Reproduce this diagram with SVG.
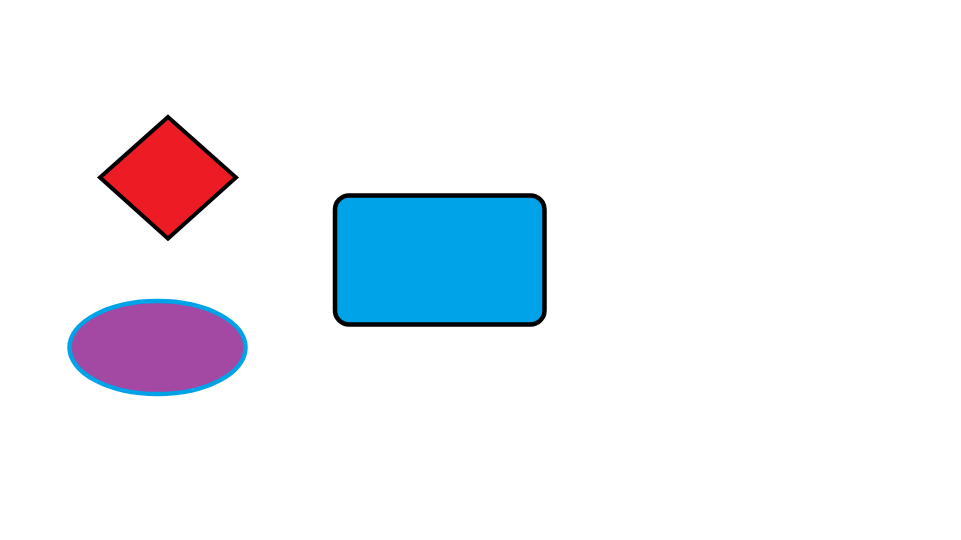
<svg xmlns="http://www.w3.org/2000/svg" width="961" height="540" viewBox="0 0 961 540">
<style>
.dia{fill:#ED1C24;stroke:#000;stroke-width:4;stroke-linejoin:miter}
.box{fill:#00A2E8;stroke:#000;stroke-width:4.5}
.ell{fill:#A349A4;stroke:#00A2E8;stroke-width:4.5}
</style>
<rect width="961" height="540" fill="#fff"/>
<g id="diamond"><polygon class="dia" points="168,117 236,177.5 168,238.5 100,177.5"/></g>
<g id="box"><rect class="box" x="335" y="195.5" width="209.5" height="129" rx="14"/></g>
<g id="ellipse"><ellipse class="ell" cx="157.5" cy="347.5" rx="88" ry="46.5"/></g>
<g id="connectors"/>
</svg>
